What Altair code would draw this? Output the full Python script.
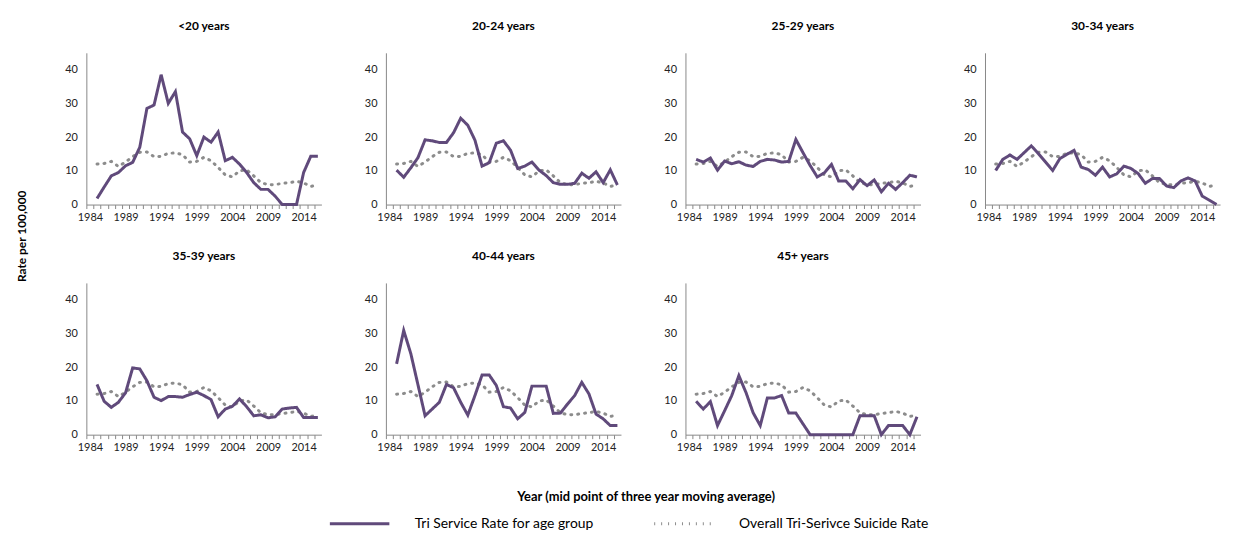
import altair as alt
import pandas as pd

years = list(range(1985, 2017))

groups = ["<20 years", "20-24 years", "25-29 years", "30-34 years",
          "35-39 years", "40-44 years", "45+ years"]

overall = [12.0, 12.2, 12.8, 11.3, 12.6, 14.2, 15.5, 15.6, 14.2, 14.3,
           15.2, 15.3, 14.8, 12.6, 12.8, 14.0, 13.0, 11.0, 8.8, 8.2,
           10.0, 10.3, 8.5, 6.5, 5.9, 5.9, 6.3, 6.5, 6.9, 6.4, 5.4, 5.8]

rate_lt20 = [1.8, 5.2, 8.5, 9.5, 11.5, 12.5, 17.0, 28.5, 29.5, 38.5,
             30.0, 33.5, 21.5, 19.5, 14.5, 20.0, 18.5, 21.5, 13.0, 14.0,
             12.0, 9.5, 6.5, 4.5, 4.5, 2.5, 0.0, 0.0, 0.0, 9.5, 14.3, 14.3]

rate_20_24 = [10.2, 8.1, 10.9, 13.9, 19.2, 18.9, 18.4, 18.4, 21.3, 25.6,
              23.5, 19.1, 11.4, 12.4, 18.2, 18.9, 16.1, 10.7, 11.4, 12.6,
              10.2, 8.6, 6.5, 6.0, 6.0, 6.3, 9.3, 7.8, 9.7, 6.5, 10.3, 5.8]

rate_25_29 = [13.4, 12.6, 13.8, 10.2, 12.9, 12.1, 12.7, 11.7, 11.3, 12.8,
              13.4, 13.2, 12.6, 12.8, 19.3, 15.4, 11.6, 8.2, 9.4, 11.9,
              7.0, 7.0, 4.7, 7.4, 5.6, 7.3, 3.8, 6.3, 4.5, 6.5, 8.7, 8.2]

rate_30_34 = [10.1, 13.4, 14.7, 13.4, 15.4, 17.4, 15.1, 12.6, 10.1, 13.6,
              14.9, 16.1, 11.1, 10.4, 8.7, 11.1, 8.2, 9.1, 11.4, 10.7,
              9.2, 6.3, 7.7, 7.7, 5.5, 5.0, 7.0, 7.9, 7.0, 2.5, 1.3, 0.0]

rate_35_39 = [14.9, 9.9, 8.1, 9.6, 12.4, 19.8, 19.5, 16.0, 11.1, 10.1,
              11.3, 11.3, 11.1, 11.9, 12.6, 11.6, 10.4, 5.3, 7.6, 8.4,
              10.6, 8.3, 5.6, 5.9, 5.0, 5.3, 7.6, 7.9, 8.1, 5.1, 5.1, 5.1]

rate_40_44 = [21.0, 30.9, 24.0, 14.8, 5.6, 7.6, 9.6, 14.9, 13.9, 9.6,
              5.8, 11.6, 17.7, 17.7, 14.6, 8.3, 7.9, 4.7, 6.6, 14.4,
              14.4, 14.4, 6.3, 6.4, 9.1, 11.6, 15.5, 12.1, 6.1, 4.7, 2.7, 2.7]

rate_45p = [9.9, 7.6, 9.8, 2.7, 7.1, 11.6, 17.5, 12.5, 6.5, 2.7,
            10.9, 10.9, 11.6, 6.4, 6.4, 3.2, 0.0, 0.0, 0.0, 0.0,
            0.0, 0.0, 0.0, 5.6, 5.6, 5.6, 0.0, 2.7, 2.7, 2.7, 0.0, 5.3]

group_rates = [rate_lt20, rate_20_24, rate_25_29, rate_30_34,
               rate_35_39, rate_40_44, rate_45p]

series_names = ["Tri Service Rate for age group", "Overall Tri-Serivce Suicide Rate"]
tick_years = list(range(1984, 2017))
y_ticks = [0, 10, 20, 30, 40]

rows = []
for g, vals in zip(groups, group_rates):
    for yr, v, o in zip(years, vals, overall):
        rows.append({"group": g, "year": yr, "series": series_names[1], "value": o})
        rows.append({"group": g, "year": yr, "series": series_names[0], "value": v})
df = pd.DataFrame(rows)

FONT = "Lato"
PURPLE = "#604a7b"
GREY = "#8c8c8c"

legend = alt.Legend(
    title=None, orient="none", direction="horizontal",
    legendX=244, legendY=443,
    labelFontSize=14, labelFont=FONT, labelColor="#000", labelLimit=400,
    symbolType="stroke", symbolSize=3600, symbolStrokeWidth=3,
    labelOffset=24, columnPadding=54,
)

color = alt.Color("series:N", scale=alt.Scale(domain=series_names, range=[PURPLE, GREY]),
                  legend=legend)
dash = alt.StrokeDash("series:N", scale=alt.Scale(domain=series_names, range=[[1, 0], [1, 6]]),
                      legend=legend)

x = alt.X("year:Q", title=None,
          scale=alt.Scale(domain=[1983.5, 2016.5], nice=False, zero=False),
          axis=alt.Axis(values=tick_years, format="d",
                        labelExpr="datum.value % 5 == 4 ? datum.label : ''",
                        labelOverlap=False, tickOffset=-3.6, labelOffset=3.6,
                        tickSize=4, labelPadding=3, grid=False))
y = alt.Y("value:Q", title=None,
          scale=alt.Scale(domain=[0, 45], nice=False),
          axis=alt.Axis(values=y_ticks, ticks=False, labelPadding=9, grid=False))


def panel(g):
    base = alt.Chart(df).transform_filter(alt.datum.group == g).encode(
        x=x, y=y, color=color, strokeDash=dash)
    grey_line = base.transform_filter(alt.datum.series == series_names[1]).mark_line(
        strokeWidth=3, strokeCap="round")
    purple_line = base.transform_filter(alt.datum.series == series_names[0]).mark_line(
        strokeWidth=3)
    return alt.layer(grey_line, purple_line).properties(
        width=237, height=153,
        title=alt.TitleParams(g, fontSize=12, font=FONT, fontWeight="bold",
                              color="#000", offset=20, anchor="middle"))


row1 = alt.hconcat(*[panel(g) for g in groups[:4]], spacing=40)
row2 = alt.hconcat(*[panel(g) for g in groups[4:]], spacing=40)

inner = alt.vconcat(row1, row2, spacing=28).properties(
    title=alt.TitleParams("Rate per 100,000", orient="left", anchor="middle",
                          fontSize=12, font=FONT, fontWeight="bold", color="#000", offset=36))

mid = alt.vconcat(inner).properties(
    title=alt.TitleParams("Year (mid point of three year moving average)", orient="bottom",
                          anchor="middle", fontSize=13, font=FONT, fontWeight="bold",
                          color="#000", offset=39, dx=27))

chart = alt.vconcat(mid).properties(
    padding={"left": 8, "top": 10, "right": 5, "bottom": 5},
).configure_axis(
    labelFont=FONT, labelFontSize=11, labelColor="#222",
    domainColor="#888888", tickColor="#888888",
).configure_view(stroke=None)

chart.save("out.html", embed_options={"renderer": "svg", "actions": False})
